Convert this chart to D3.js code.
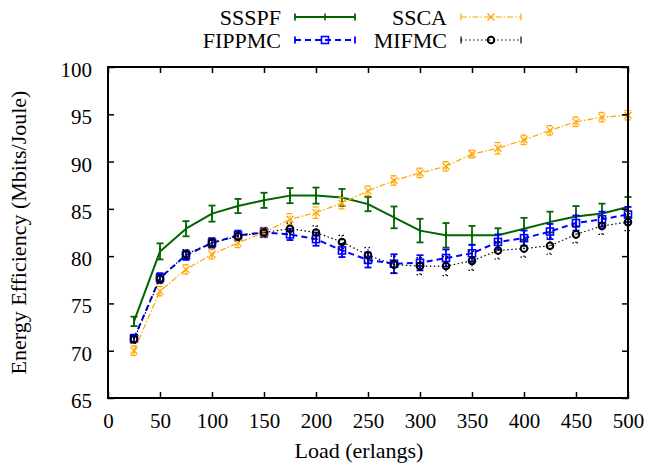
<!DOCTYPE html>
<html lang="en">
<head>
  <meta charset="UTF-8">
  <title>Energy Efficiency vs Load</title>
  <script src="https://d3js.org/d3.v7.min.js"></script>
  <style>
    body { margin: 0; background: #fff; }
  </style>
</head>
<body>
  <div id="chart"></div>
  <script>
    // Data
    const loads = [25, 50, 75, 100, 125, 150, 175, 200, 225, 250, 275, 300, 325, 350, 375, 400, 425, 450, 475, 500];

    const ssspf    = [73.1, 80.5, 82.9, 84.5, 85.3, 85.9, 86.4, 86.4, 86.2, 85.5, 84.1, 82.7, 82.2, 82.2, 82.2, 82.9, 83.6, 84.2, 84.5, 85.2];
    const ssspfErr = [0.5, 0.85, 0.8, 0.85, 0.75, 0.8, 0.8, 0.85, 0.9, 0.75, 1.15, 1.25, 1.3, 1.0, 0.75, 1.15, 1.1, 1.1, 1.05, 1.05];

    const ssca     = [70.0, 76.3, 78.6, 80.2, 81.4, 82.5, 83.9, 84.6, 85.6, 86.9, 88.0, 88.8, 89.5, 90.8, 91.4, 92.3, 93.3, 94.2, 94.7, 94.9];
    const sscaErr  = [0.5, 0.5, 0.5, 0.5, 0.5, 0.5, 0.6, 0.6, 0.6, 0.5, 0.5, 0.5, 0.5, 0.4, 0.6, 0.5, 0.5, 0.5, 0.5, 0.5];

    const fippmc    = [71.3, 77.7, 80.1, 81.4, 82.2, 82.5, 82.3, 81.8, 80.6, 79.6, 79.2, 79.3, 79.8, 80.3, 81.5, 81.9, 82.6, 83.5, 83.9, 84.4];
    const fippmcErr = [0.4, 0.5, 0.5, 0.5, 0.5, 0.5, 0.6, 0.7, 0.7, 0.8, 1.0, 0.8, 0.9, 0.9, 0.8, 0.8, 0.8, 0.8, 0.8, 0.8];

    const mifmc    = [71.2, 77.6, 80.2, 81.4, 82.1, 82.5, 82.9, 82.5, 81.5, 80.1, 79.1, 78.95, 78.95, 79.5, 80.6, 80.8, 81.1, 82.3, 83.2, 83.6];
    const mifmcErr = [0.4, 0.5, 0.5, 0.5, 0.5, 0.5, 0.6, 0.7, 0.7, 0.8, 0.9, 0.9, 1.0, 1.0, 0.9, 0.9, 0.9, 0.9, 0.9, 0.9];

    const xTicks = [0, 50, 100, 150, 200, 250, 300, 350, 400, 450, 500];
    const yTicks = [65, 70, 75, 80, 85, 90, 95, 100];

    const FONT = "Liberation Serif";

    const W = 647, H = 468;
    const margin = { top: 67, right: 19, bottom: 70, left: 108 };
    const width = W - margin.left - margin.right,
          height = H - margin.top - margin.bottom;

    const svg = d3.select("#chart").append("svg")
      .attr("width", W).attr("height", H);

    const g = svg.append("g")
      .attr("transform", `translate(${margin.left},${margin.top})`);

    const x = d3.scaleLinear().domain([0, 500]).range([0, width]);
    const y = d3.scaleLinear().domain([65, 100]).range([height, 0]);

    const series = [
      { name: "SSSPF",  vals: ssspf,  err: ssspfErr,  color: "#006400", width: 2,   dash: null,        marker: "plus"   },
      { name: "FIPPMC", vals: fippmc, err: fippmcErr, color: "#0000ff", width: 2,   dash: "6,4",       marker: "square" },
      { name: "SSCA",   vals: ssca,   err: sscaErr,   color: "#ffa500", width: 1.2, dash: "6,2,1.5,2", marker: "cross"  },
      { name: "MIFMC",  vals: mifmc,  err: mifmcErr,  color: "#000000", width: 1.2, dash: "1.5,2.5",   marker: "circle" }
    ];

    function drawMarker(sel, type, color) {
      if (type === "square") {
        sel.append("rect").attr("x", -3.5).attr("y", -3.5).attr("width", 7).attr("height", 7)
          .attr("fill", "none").attr("stroke", color).attr("stroke-width", 1.6);
      } else if (type === "circle") {
        sel.append("circle").attr("r", 3.3)
          .attr("fill", "none").attr("stroke", color).attr("stroke-width", 2);
      } else if (type === "cross") {
        sel.append("path").attr("d", "M-3.5,-3.5L3.5,3.5M-3.5,3.5L3.5,-3.5")
          .attr("stroke", color).attr("stroke-width", 1.3);
      } else if (type === "plus") {
        sel.append("path").attr("d", "M0,-3.5L0,3.5")
          .attr("stroke", color).attr("stroke-width", 1.6);
      }
    }

    // Error bars, lines and markers
    series.forEach(s => {
      const data = loads.map((l, i) => ({ x: l, y: s.vals[i], e: s.err[i] }));
      const sg = g.append("g");

      const eb = sg.selectAll(".eb").data(data).enter().append("g")
        .attr("stroke", s.color).attr("stroke-width", s.width === 2 ? 1.8 : 1.2)
        .attr("stroke-dasharray", s.dash && s.width < 2 ? s.dash : null);
      eb.append("line")
        .attr("x1", d => x(d.x)).attr("x2", d => x(d.x))
        .attr("y1", d => y(d.y - d.e)).attr("y2", d => y(d.y + d.e));
      eb.append("line")
        .attr("x1", d => x(d.x) - 3.5).attr("x2", d => x(d.x) + 3.5)
        .attr("y1", d => y(d.y - d.e)).attr("y2", d => y(d.y - d.e));
      eb.append("line")
        .attr("x1", d => x(d.x) - 3.5).attr("x2", d => x(d.x) + 3.5)
        .attr("y1", d => y(d.y + d.e)).attr("y2", d => y(d.y + d.e));

      const line = d3.line().x(d => x(d.x)).y(d => y(d.y));
      sg.append("path").datum(data)
        .attr("d", line)
        .attr("fill", "none")
        .attr("stroke", s.color)
        .attr("stroke-width", s.width)
        .attr("stroke-linejoin", "round")
        .attr("stroke-dasharray", s.dash);

      sg.selectAll(".mk").data(data).enter().append("g")
        .attr("transform", d => `translate(${x(d.x)},${y(d.y)})`)
        .each(function () { drawMarker(d3.select(this), s.marker, s.color); });
    });

    // Axes (ticks inward, mirrored on all sides)
    const tickLen = 6;
    const axisStyle = sel => {
      sel.attr("font-family", FONT).attr("font-size", 21);
      sel.select(".domain").remove();
      sel.selectAll(".tick line").attr("stroke", "#000").attr("stroke-width", 1.5);
      sel.selectAll(".tick text").attr("fill", "#000").attr("font-family", FONT);
    };
    g.append("g").attr("transform", `translate(0,${height})`)
      .call(d3.axisBottom(x).tickValues(xTicks).tickSize(-tickLen).tickPadding(15))
      .call(axisStyle);
    g.append("g")
      .call(d3.axisTop(x).tickValues(xTicks).tickSize(-tickLen).tickFormat(""))
      .call(axisStyle);
    g.append("g")
      .call(d3.axisLeft(y).tickValues(yTicks).tickSize(-tickLen).tickPadding(16))
      .call(axisStyle)
      .selectAll(".tick text").attr("dy", "0.45em");
    g.append("g").attr("transform", `translate(${width},0)`)
      .call(d3.axisRight(y).tickValues(yTicks).tickSize(-tickLen).tickFormat(""))
      .call(axisStyle);

    g.append("rect")
      .attr("width", width).attr("height", height)
      .attr("fill", "none").attr("stroke", "#000").attr("stroke-width", 2);

    // Axis titles
    svg.append("text")
      .attr("font-family", FONT).attr("font-size", 22)
      .attr("x", 359).attr("y", 458)
      .attr("text-anchor", "middle").text("Load (erlangs)");
    svg.append("text")
      .attr("font-family", FONT).attr("font-size", 22)
      .attr("transform", `translate(26,${margin.top + height / 2}) rotate(-90)`)
      .attr("text-anchor", "middle").text("Energy Efficiency (Mbits/Joule)");

    // Legend
    const legendPos = [
      { tx: 281, ty: 17 },
      { tx: 281, ty: 40 },
      { tx: 447, ty: 17 },
      { tx: 447, ty: 40 }
    ];
    series.forEach((s, i) => {
      const p = legendPos[i];
      const lg = svg.append("g");
      lg.append("text")
        .attr("font-family", FONT).attr("font-size", 22)
        .attr("x", p.tx).attr("y", p.ty + 8)
        .attr("text-anchor", "end").text(s.name);
      const x0 = p.tx + 14, x1 = p.tx + 74, xm = (x0 + x1) / 2;
      lg.append("line")
        .attr("x1", x0).attr("x2", x1).attr("y1", p.ty).attr("y2", p.ty)
        .attr("stroke", s.color).attr("stroke-width", s.width).attr("stroke-dasharray", s.dash);
      [x0, x1].forEach(ex => {
        lg.append("line")
          .attr("x1", ex).attr("x2", ex).attr("y1", p.ty - 3.5).attr("y2", p.ty + 3.5)
          .attr("stroke", s.color).attr("stroke-width", s.width === 2 ? 1.8 : 1.2);
      });
      const mg = lg.append("g").attr("transform", `translate(${xm},${p.ty})`);
      drawMarker(mg, s.marker, s.color);
    });
  </script>
</body>
</html>
